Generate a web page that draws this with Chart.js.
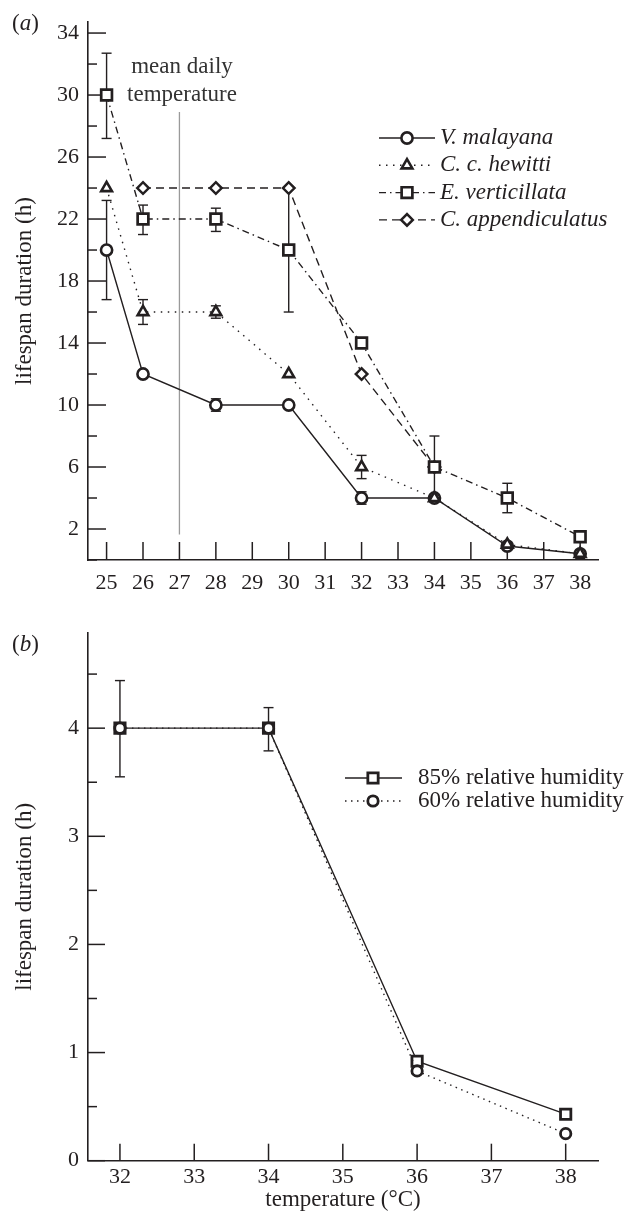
<!DOCTYPE html>
<html><head><meta charset="utf-8">
<script src="https://cdn.jsdelivr.net/npm/chart.js@4.4.0/dist/chart.umd.min.js"></script>
<style>
html,body{margin:0;padding:0;background:#fff;}
#wrap{position:relative;width:631px;height:1212px;overflow:hidden;}
#c1{position:absolute;left:0;top:0;}
#c2{position:absolute;left:0;top:605px;}
</style></head><body>
<div id="wrap">
<canvas id="c1" width="631" height="605"></canvas>
<canvas id="c2" width="631" height="607"></canvas>
</div>
<script>
// ---------- data (panel a) ----------
const tempsA = [25, 26, 28, 30, 32, 34, 36, 38];
const xTicksA = [25, 26, 27, 28, 29, 30, 31, 32, 33, 34, 35, 36, 37, 38];
const yTicksA = [0, 2, 4, 6, 8, 10, 12, 14, 16, 18, 20, 22, 24, 26, 28, 30, 32, 34];
const yLabelsA = [2, 6, 10, 14, 18, 22, 26, 30, 34];
const malayana = [20, 12, 10, 10, 4, 4, 0.9, 0.4];
const hewitti = [24, 16, 16, 12, 6, 4, 1, 0.4];
const verticillata = [30, 22, 22, 20, 14, 6, 4, 1.5];
const appendiculatus = [null, 24, 24, 24, 12, 6, null, null];
const malayanaErr = [[16.8, 23.2], null, [9.6, 10.4], null, [3.6, 4.4], null, null, null];
const hewittiErr = [null, [15.2, 16.8], [15.6, 16.4], null, [5.25, 6.75], null, null, null];
const verticillataErr = [[27.2, 32.7], [21.0, 22.9], [21.2, 22.7], [16, 24], null, [4, 8], [3.05, 4.95], null];
const meanDailyTemp = 27;
// ---------- data (panel b) ----------
const tempsB = [32, 34, 36, 38];
const xTicksB = [32, 33, 34, 35, 36, 37, 38];
const yTicksB = [0, 0.5, 1, 1.5, 2, 2.5, 3, 3.5, 4, 4.5];
const yLabelsB = [0, 1, 2, 3, 4];
const rh85 = [4, 4, 0.92, 0.43];
const rh60 = [4, 4, 0.83, 0.25];
const rh85Err = [[3.55, 4.44], [3.79, 4.19], null, null];

const INK = '#231f20';
const SERIF = '"Liberation Serif", "Times New Roman", serif';

function mkDs(label, xs, ys, err, dash, style, r, order, pbw) {
  return {
    label, err,
    data: xs.map((x, i) => ({x, y: ys[i]})),
    borderColor: INK, borderWidth: 1.4, borderDash: dash,
    pointStyle: style, pointRadius: r, pointHoverRadius: r,
    pointBorderWidth: pbw, pointBackgroundColor: '#fff', pointBorderColor: INK,
    tension: 0, order, fill: false
  };
}

function line(ctx, x1, y1, x2, y2) { ctx.beginPath(); ctx.moveTo(x1, y1); ctx.lineTo(x2, y2); ctx.stroke(); }

const deco = {
  id: 'deco',
  beforeDatasetsDraw(chart, args, o) {
    const {ctx, chartArea: {left, bottom}} = chart;
    const xs = chart.scales.x, ys = chart.scales.y;
    ctx.save();
    ctx.strokeStyle = INK; ctx.lineWidth = 1.5; ctx.setLineDash([]);
    o.yTicks.forEach(v => {
      const y = ys.getPixelForValue(v);
      const len = o.yMajor.includes(v) ? o.majorLen : o.minorLen;
      line(ctx, left, y, left + len, y);
    });
    o.xTicks.forEach(v => {
      const x = xs.getPixelForValue(v);
      line(ctx, x, bottom, x, bottom - o.xLen);
    });
    if (o.vline) {
      ctx.strokeStyle = '#9a9a9a'; ctx.lineWidth = 1.3;
      const x = xs.getPixelForValue(o.vline.x);
      line(ctx, x, ys.getPixelForValue(o.vline.y0), x, ys.getPixelForValue(o.vline.y1));
    }
    // error bars
    ctx.strokeStyle = INK; ctx.lineWidth = 1.4;
    chart.data.datasets.forEach(d => {
      if (!d.err) return;
      d.err.forEach((e, i) => {
        if (!e) return;
        const x = xs.getPixelForValue(d.data[i].x);
        const y0 = ys.getPixelForValue(e[0]), y1 = ys.getPixelForValue(e[1]);
        line(ctx, x, y0, x, y1);
        line(ctx, x - o.cap, y0, x + o.cap, y0);
        line(ctx, x - o.cap, y1, x + o.cap, y1);
      });
    });
    ctx.restore();
  },
  afterDraw(chart, args, o) {
    const {ctx} = chart;
    ctx.save();
    ctx.fillStyle = INK;
    ctx.textBaseline = 'middle';
    // panel letter
    ctx.textAlign = 'left';
    ctx.font = '23px ' + SERIF;
    ctx.fillText('(', o.panel.x, o.panel.y);
    let w = ctx.measureText('(').width;
    ctx.font = 'italic 23px ' + SERIF;
    ctx.fillText(o.panel.t, o.panel.x + w, o.panel.y);
    w += ctx.measureText(o.panel.t).width;
    ctx.font = '23px ' + SERIF;
    ctx.fillText(')', o.panel.x + w, o.panel.y);
    // annotation text
    if (o.notes) {
      ctx.textAlign = 'center';
      ctx.fillStyle = '#333';
      o.notes.forEach(n => ctx.fillText(n.t, n.x, n.y));
      ctx.fillStyle = INK;
    }
    // legend
    const L = o.legend;
    chart.data.datasets.forEach((d, i) => {
      const y = L.y0 + i * L.dy;
      ctx.strokeStyle = INK; ctx.lineWidth = 1.4;
      ctx.setLineDash(d.borderDash || []);
      line(ctx, L.x0, y, L.x1, y);
      ctx.setLineDash([]);
      ctx.fillStyle = '#fff'; ctx.strokeStyle = INK; ctx.lineWidth = d.pointBorderWidth;
      Chart.helpers.drawPoint(ctx, {pointStyle: d.pointStyle, radius: d.pointRadius, borderWidth: d.pointBorderWidth, rotation: 0}, L.xm, y);
      ctx.fillStyle = INK;
      ctx.textAlign = 'left';
      ctx.font = L.font;
      ctx.fillText(d.label, L.xt, y);
    });
    ctx.restore();
  }
};

function scaleOpts(min, max, ticks, labels, pad, width, height, titleOpts) {
  const o = {
    type: 'linear', min, max,
    grid: {display: false, drawTicks: false},
    border: {display: true, color: INK, width: 1.6},
    afterBuildTicks: s => { s.ticks = ticks.map(v => ({value: v})); },
    ticks: {
      color: INK, font: {family: SERIF, size: 22}, padding: pad,
      autoSkip: false, maxRotation: 0,
      callback: v => labels.includes(v) ? String(v) : ''
    }
  };
  if (width !== undefined) o.afterFit = s => { s.width = width; };
  if (height !== undefined) o.afterFit = s => { s.height = height; };
  if (titleOpts) o.title = titleOpts;
  return o;
}

// ---------- chart (a) ----------
new Chart(document.getElementById('c1'), {
  type: 'line',
  data: {
    datasets: [
      mkDs('V. malayana', tempsA, malayana, malayanaErr, [], 'circle', 5.6, 3, 2.6),
      mkDs('C. c. hewitti', tempsA, hewitti, hewittiErr, [1.5, 5.5], 'triangle', 6.2, 2, 2.6),
      mkDs('E. verticillata', tempsA, verticillata, verticillataErr, [7, 4, 1.5, 4], 'rect', 7.6, 0, 2.7),
      mkDs('C. appendiculatus', tempsA, appendiculatus, null, [8, 5], 'rectRot', 5.8, 1, 2.5)
    ]
  },
  options: {
    responsive: false, animation: false, events: [],
    layout: {padding: {top: 13, right: 33, left: 0, bottom: 0}},
    plugins: {
      legend: {display: false}, tooltip: {enabled: false},
      deco: {
        yTicks: yTicksA, yMajor: yLabelsA, majorLen: 18, minorLen: 9,
        xTicks: xTicksA, xLen: 18, cap: 5,
        vline: {x: meanDailyTemp, y0: 1.65, y1: 28.9},
        panel: {x: 12, y: 24, t: 'a'},
        notes: [{t: 'mean daily', x: 182, y: 67}, {t: 'temperature', x: 182, y: 95}],
        legend: {x0: 379, x1: 435, xm: 407, xt: 440, y0: 138, dy: 27.3, font: 'italic 23px ' + SERIF}
      }
    },
    scales: {
      x: scaleOpts(24.49, 38.49, xTicksA, xTicksA, 10, undefined, 45),
      y: scaleOpts(0, 34.7, yTicksA, yLabelsA, 9, 88, undefined,
        {display: true, text: 'lifespan duration (h)', color: INK, font: {family: SERIF, size: 23}, padding: {top: 11, bottom: 0}})
    }
  },
  plugins: [deco]
});

// ---------- chart (b) ----------
new Chart(document.getElementById('c2'), {
  type: 'line',
  data: {
    datasets: [
      mkDs('85% relative humidity', tempsB, rh85, rh85Err, [], 'rect', 7.3, 1, 2.8),
      mkDs('60% relative humidity', tempsB, rh60, null, [1.5, 4.5], 'circle', 5.2, 0, 2.8)
    ]
  },
  options: {
    responsive: false, animation: false, events: [],
    layout: {padding: {top: 28, right: 33, left: 0, bottom: 0}},
    plugins: {
      legend: {display: false}, tooltip: {enabled: false},
      deco: {
        yTicks: yTicksB, yMajor: yLabelsB, majorLen: 17, minorLen: 9,
        xTicks: xTicksB, xLen: 17, cap: 5,
        panel: {x: 12, y: 40, t: 'b'},
        legend: {x0: 345, x1: 402, xm: 373, xt: 418, y0: 173, dy: 23, font: '23px ' + SERIF}
      }
    },
    scales: {
      x: scaleOpts(31.57, 38.435, xTicksB, xTicksB, 3, undefined, 51.3,
        {display: true, text: 'temperature (°C)', color: INK, font: {family: SERIF, size: 23, lineHeight: 1}, padding: {top: 0, bottom: 0.5}}),
      y: scaleOpts(0, 4.88, yTicksB, yLabelsB, 9, 88, undefined,
        {display: true, text: 'lifespan duration (h)', color: INK, font: {family: SERIF, size: 23}, padding: {top: 11, bottom: 0}})
    }
  },
  plugins: [deco]
});
</script>
</body></html>
